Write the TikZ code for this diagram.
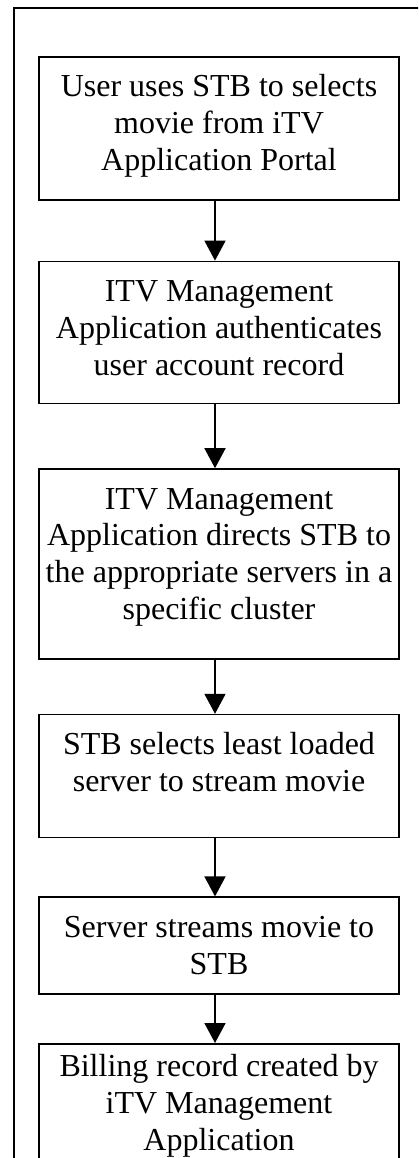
\documentclass[tikz,border=0pt]{standalone}
\usepackage{fontspec}
\setmainfont{Liberation Serif}
\usetikzlibrary{arrows.meta,positioning}

\begin{document}
\begin{tikzpicture}[
    x=1pt, y=-1pt,
    stepbox/.style={draw, line width=1.6pt, anchor=north, text width=350pt,
              align=flush center, inner xsep=5pt, inner ysep=0pt, text height=40pt,
              font=\fontsize{32pt}{36.8pt}\selectfont},
    flow/.style={-{Triangle[width=21pt,length=20pt]}, line width=1.6pt}
]
\useasboundingbox (0,0) rectangle (418,1158);
\clip (0,0) rectangle (418,1158);
% outer frame, runs off the page on the right and at the bottom
\draw[line width=1.6pt] (14,8) rectangle (440,1180);

\node[stepbox, text depth=103pt] (select) at (219,56)
    {User uses STB to selects\\ movie from iTV\\ Application Portal};
\node[stepbox, text depth=102pt, below=60pt of select] (auth)
    {ITV Management\\ Application authenticates\\ user account record};
\node[stepbox, text depth=150pt, below=64pt of auth] (direct)
    {ITV Management\\ Application directs STB to\\ the appropriate servers in a\\ specific cluster};
\node[stepbox, text depth=83pt, below=54pt of direct] (least)
    {STB selects least loaded\\ server to stream movie};
\node[stepbox, text depth=57pt, below=58pt of least] (stream)
    {Server streams movie to\\ STB};
\node[stepbox, text height=33pt, text depth=83pt, below=48pt of stream] (bill)
    {Billing record created by\\ iTV Management\\ Application};

\foreach \a/\b in {select/auth, auth/direct, direct/least, least/stream, stream/bill}
    \draw[flow] ([xshift=-4pt]\a.south) -- ([xshift=-4pt]\b.north);
\end{tikzpicture}
\end{document}
